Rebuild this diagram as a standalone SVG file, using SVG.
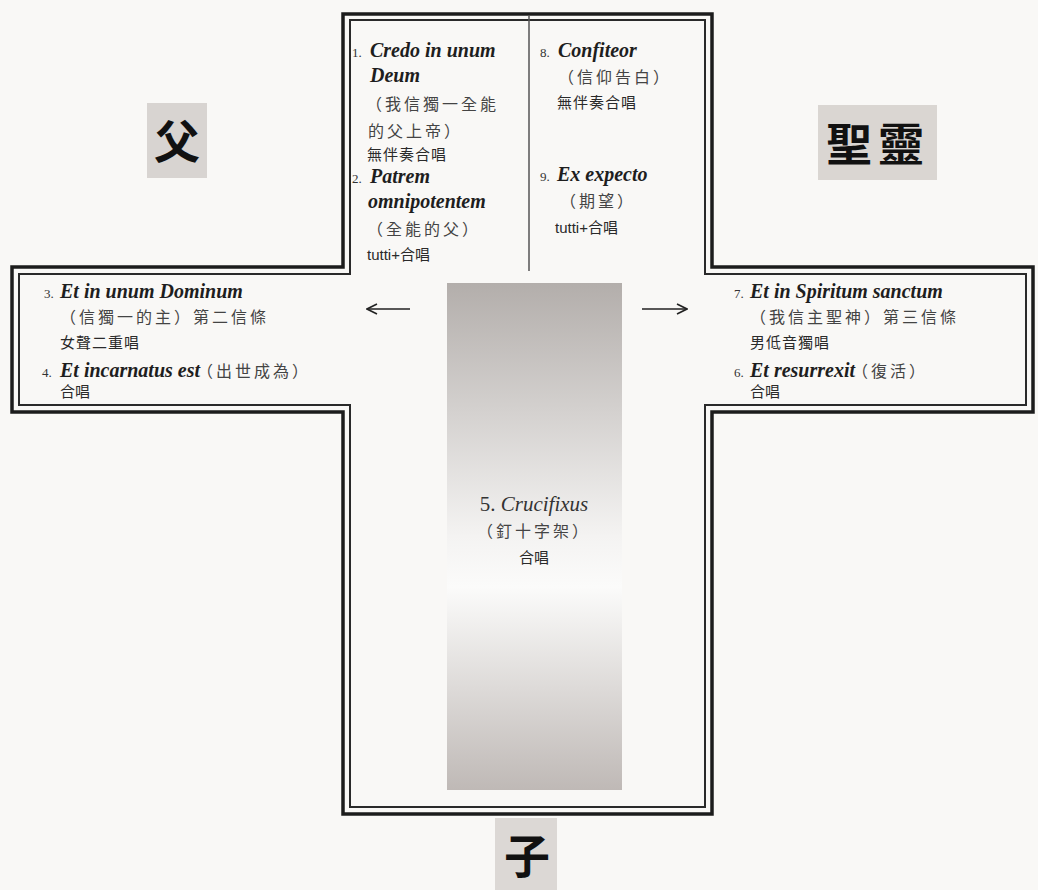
<svg xmlns="http://www.w3.org/2000/svg" width="1038" height="890" viewBox="0 0 1038 890">
<defs>
<style>
.lat{font-family:"Liberation Serif","Times New Roman",serif;font-weight:700;font-style:italic;font-size:20px;fill:#1e1e1e}
.num{font-family:"Liberation Serif","Times New Roman",serif;font-size:13px;fill:#333}
.cjk{font-family:"Noto Sans CJK TC","Noto Sans CJK SC",sans-serif;font-size:16px;fill:#444;letter-spacing:3px}
.sm{font-family:"Liberation Sans","Noto Sans CJK TC",sans-serif;font-size:15px;fill:#2a2a2a}
.big{font-family:"Noto Sans CJK TC","Noto Sans CJK SC",sans-serif;font-size:46px;font-weight:700;fill:#111}
.frameO{fill:none;stroke:#1c1c1c;stroke-width:3.5}
.frameI{fill:none;stroke:#2a2a2a;stroke-width:2}
.arrow{stroke:#222;stroke-width:1.6;fill:none}
</style>
<linearGradient id="g" x1="0" y1="0" x2="0" y2="1">
<stop offset="0" stop-color="#b3aeab"/>
<stop offset="0.5" stop-color="#f4f3f2"/>
<stop offset="0.6" stop-color="#fbfbfa"/>
<stop offset="1" stop-color="#bfb9b6"/>
</linearGradient>
<marker id="ah" viewBox="0 0 12 12" refX="11" refY="6" markerWidth="12" markerHeight="12" markerUnits="userSpaceOnUse" orient="auto">
<path d="M1,1 L11,6 L1,11" fill="none" stroke="#222" stroke-width="1.6"/>
</marker>
</defs>
<rect width="1038" height="890" fill="#f9f8f6"/>
<g id="cross">
<path d="M343,14 H712 V267 H1033 V412 H712 V814 H343 V412 H12 V267 H343 Z" fill="#ffffff" class="frameO"/>
<path d="M350,20 H705 V274 H1026 V405 H705 V807 H350 V405 H19 V274 H350 Z" class="frameI"/>
<line x1="529" y1="16" x2="529" y2="271" stroke="#555" stroke-width="1.5"/>
<rect x="447" y="283" width="175" height="507" fill="url(#g)"/>
</g>
<g id="father">
<rect x="147" y="103" width="60" height="75" fill="#d8d4d1"/>
<text class="big" x="177" y="158" text-anchor="middle">父</text>
</g>
<g id="spirit">
<rect x="818" y="105" width="119" height="75" fill="#dad6d2"/>
<text class="big" x="878" y="161" text-anchor="middle" letter-spacing="6">聖靈</text>
</g>
<g id="son">
<rect x="495" y="818" width="62" height="72" fill="#dcd8d5"/>
<text class="big" x="527" y="873" text-anchor="middle">子</text>
</g>
<g id="top-left">
<text class="num" x="352" y="57">1.</text>
<text class="lat" x="370" y="57">Credo in unum</text>
<text class="lat" x="370" y="82">Deum</text>
<text class="cjk" x="366" y="110" letter-spacing="5">（我信獨一全能</text>
<text class="cjk" x="368" y="137">的父上帝）</text>
<text class="sm" x="367" y="160" letter-spacing="1">無伴奏合唱</text>
<text class="num" x="352" y="183">2.</text>
<text class="lat" x="370" y="183">Patrem</text>
<text class="lat" x="368" y="208">omnipotentem</text>
<text class="cjk" x="367" y="235">（全能的父）</text>
<text class="sm" x="367" y="260">tutti+合唱</text>
</g>
<g id="top-right">
<text class="num" x="540" y="57">8.</text>
<text class="lat" x="558" y="57">Confiteor</text>
<text class="cjk" x="558" y="83">（信仰告白）</text>
<text class="sm" x="557" y="108" letter-spacing="1">無伴奏合唱</text>
<text class="num" x="540" y="181">9.</text>
<text class="lat" x="557" y="181">Ex expecto</text>
<text class="cjk" x="560" y="207">（期望）</text>
<text class="sm" x="555" y="233">tutti+合唱</text>
</g>
<g id="left-arm">
<text class="num" x="44" y="298">3.</text>
<text class="lat" x="60" y="298">Et in unum Dominum</text>
<text class="cjk" x="60" y="323">（信獨一的主）第二信條</text>
<text class="sm" x="60" y="348" letter-spacing="1">女聲二重唱</text>
<text class="num" x="42" y="377">4.</text>
<text class="lat" x="60" y="377" font-size="18">Et incarnatus est</text>
<text class="cjk" x="197" y="377">（出世成為）</text>
<text class="sm" x="60" y="397">合唱</text>
</g>
<g id="right-arm">
<text class="num" x="734" y="298">7.</text>
<text class="lat" x="750" y="298">Et in Spiritum sanctum</text>
<text class="cjk" x="750" y="323">（我信主聖神）第三信條</text>
<text class="sm" x="750" y="348" letter-spacing="1">男低音獨唱</text>
<text class="num" x="734" y="377">6.</text>
<text class="lat" x="750" y="377" font-size="18">Et resurrexit</text>
<text class="cjk" x="852" y="377">（復活）</text>
<text class="sm" x="750" y="397">合唱</text>
</g>
<g id="center">
<text x="534" y="511" text-anchor="middle" style="font-family:'Liberation Serif',serif;font-size:21px;fill:#333"><tspan>5. </tspan><tspan font-style="italic">Crucifixus</tspan></text>
<text class="cjk" x="534" y="537" text-anchor="middle">（釘十字架）</text>
<text class="sm" x="534" y="563" text-anchor="middle" font-size="17">合唱</text>
</g>
<g id="connectors">
<line class="arrow" x1="410" y1="309" x2="367" y2="309" marker-end="url(#ah)"/>
<line class="arrow" x1="642" y1="309" x2="687" y2="309" marker-end="url(#ah)"/>
</g>
</svg>
